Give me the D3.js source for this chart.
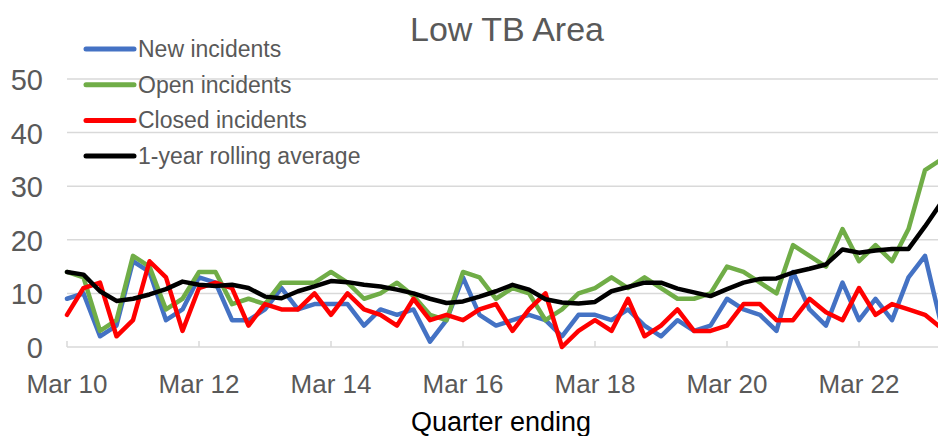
<!DOCTYPE html>
<html>
<head>
<meta charset="utf-8">
<script src="https://cdn.jsdelivr.net/npm/d3@7"></script>
<style>
  body { margin: 0; background: #fff; }
  svg { display: block; font-family: "Liberation Sans", Arial, sans-serif; }
  .grid line { stroke: #d9d9d9; stroke-width: 1.5; }
  .axis text { fill: #595959; }
</style>
</head>
<body>
<div id="chart"></div>
<script>
// quarter ending, Mar 10 .. Jun 23
var quarters = [
  "Mar 10","Jun 10","Sep 10","Dec 10","Mar 11","Jun 11","Sep 11","Dec 11",
  "Mar 12","Jun 12","Sep 12","Dec 12","Mar 13","Jun 13","Sep 13","Dec 13",
  "Mar 14","Jun 14","Sep 14","Dec 14","Mar 15","Jun 15","Sep 15","Dec 15",
  "Mar 16","Jun 16","Sep 16","Dec 16","Mar 17","Jun 17","Sep 17","Dec 17",
  "Mar 18","Jun 18","Sep 18","Dec 18","Mar 19","Jun 19","Sep 19","Dec 19",
  "Mar 20","Jun 20","Sep 20","Dec 20","Mar 21","Jun 21","Sep 21","Dec 21",
  "Mar 22","Jun 22","Sep 22","Dec 22","Mar 23","Jun 23"
];
var tickLabels = ["Mar 10","Mar 12","Mar 14","Mar 16","Mar 18","Mar 20","Mar 22"];
var yTicks = [0, 10, 20, 30, 40, 50];

var newIncidents = [9,10,2,4,16,14,5,7,13,12,5,5,7,11,7,8,8,8,4,7,6,7,1,5,
  13,6,4,5,6,5,2,6,6,5,7,4,2,5,3,4,9,7,6,3,14,7,4,12,5,9,5,13,17,4];
var openIncidents = [14,13,3,5,17,15,7,9,14,14,8,9,8,12,12,12,14,12,9,10,12,9.5,6,5,
  14,13,9,11,10,5,7,10,11,13,11,13,11,9,9,10,15,14,12,10,19,17,15,22,16,19,16,22,33,35];
var closedIncidents = [6,11,12,2,5,16,13,3,11,12,11,4,8,7,7,10,6,10,7,6,4,9,5,6,
  5,7,8,3,7,10,0,3,5,3,9,2,4,7,3,3,4,8,8,5,5,9,6.5,5,11,6,8,7,6,3.5];
var rollingAvg = [14,13.5,10.4,8.6,9,9.8,10.8,12.2,11.6,11.4,11.6,11,9.4,9.1,10.4,11.3,
  12.3,12.1,11.6,11.3,10.7,10,9,8.2,8.5,9.4,10.4,11.6,10.7,8.9,8.3,8.1,8.4,10.4,
  11.2,12,12,10.9,10.2,9.5,10.8,12,12.7,12.8,13.9,14.6,15.4,18.2,17.6,18,18.3,18.3,22.5,27];

var series = [
  {name: "New incidents", values: newIncidents, color: "#4472c4"},
  {name: "Open incidents", values: openIncidents, color: "#70ad47"},
  {name: "Closed incidents", values: closedIncidents, color: "#ff0000"},
  {name: "1-year rolling average", values: rollingAvg, color: "#000000"}
];

var w = 938, h = 436;

var svg = d3.select("#chart").append("svg")
    .attr("width", w)
    .attr("height", h);

var x = d3.scaleLinear()
    .domain([0, quarters.length - 1])
    .range([67, 67 + 16.5 * (quarters.length - 1)]);

var y = d3.scaleLinear()
    .domain([0, 50])
    .range([347, 79]);

// gridlines
svg.append("g")
    .attr("class", "grid")
    .selectAll("line")
    .data(yTicks)
    .enter().append("line")
    .attr("x1", x(0))
    .attr("x2", x(quarters.length - 1))
    .attr("y1", function(d) { return y(d); })
    .attr("y2", function(d) { return y(d); });

// y axis labels
var yAxis = svg.append("g")
    .attr("class", "axis")
    .attr("transform", "translate(43,0)")
    .call(d3.axisLeft(y).tickValues(yTicks).tickSize(0).tickPadding(0));
yAxis.select(".domain").remove();
yAxis.selectAll("text")
    .style("font-size", "29px")
    .attr("dy", "0.36em");

// x axis: tick marks on category positions
var tickIdx = tickLabels.map(function(t) { return quarters.indexOf(t); });
svg.append("g")
    .selectAll("line")
    .data(tickIdx)
    .enter().append("line")
    .attr("x1", function(d) { return x(d); })
    .attr("x2", function(d) { return x(d); })
    .attr("y1", y(0) - 6)
    .attr("y2", y(0))
    .attr("stroke", "#d9d9d9")
    .attr("stroke-width", 1.5);

svg.append("g")
    .attr("class", "axis")
    .selectAll("text")
    .data(tickLabels)
    .enter().append("text")
    .attr("x", function(d) { return x(quarters.indexOf(d)); })
    .attr("y", 393)
    .attr("text-anchor", "middle")
    .style("font-size", "26px")
    .text(function(d) { return d; });

// lines
var line = d3.line()
    .x(function(d, i) { return x(i); })
    .y(function(d) { return y(d); });

svg.append("g")
    .selectAll("path")
    .data(series)
    .enter().append("path")
    .attr("d", function(d) { return line(d.values); })
    .attr("fill", "none")
    .attr("stroke", function(d) { return d.color; })
    .attr("stroke-width", 4.5)
    .attr("stroke-linejoin", "round")
    .attr("stroke-linecap", "round");

// title
svg.append("text")
    .attr("x", 507)
    .attr("y", 41)
    .attr("text-anchor", "middle")
    .attr("fill", "#595959")
    .style("font-size", "34px")
    .text("Low TB Area");

// x axis title
svg.append("text")
    .attr("x", 501)
    .attr("y", 431)
    .attr("text-anchor", "middle")
    .attr("fill", "#000")
    .style("font-size", "27px")
    .text("Quarter ending");

// legend
var legend = svg.append("g")
    .selectAll("g")
    .data(series)
    .enter().append("g")
    .attr("transform", function(d, i) { return "translate(0," + (49 + i * 35.7) + ")"; });

legend.append("line")
    .attr("x1", 86)
    .attr("x2", 134)
    .attr("stroke", function(d) { return d.color; })
    .attr("stroke-width", 5)
    .attr("stroke-linecap", "round");

legend.append("text")
    .attr("x", 138)
    .attr("y", 8)
    .attr("fill", "#595959")
    .style("font-size", "23px")
    .text(function(d) { return d.name; });
</script>
</body>
</html>
